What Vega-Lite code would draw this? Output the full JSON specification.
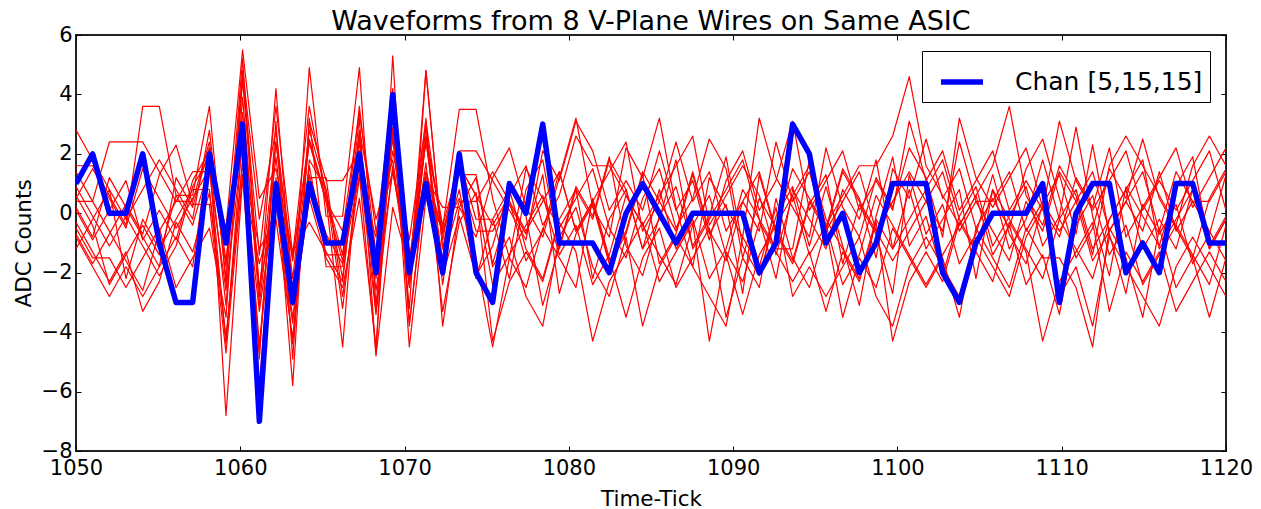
{
"$schema": "https://vega.github.io/schema/vega-lite/v6.json",
"width": 1150,
"height": 416,
"autosize": "none",
"padding": {"left": 76, "top": 35, "right": 35, "bottom": 58},
"background": "#ffffff",
"config": {
  "font": "DejaVu Sans",
  "view": {"stroke": "#222222", "strokeWidth": 2},
  "axis": {"labelFont": "DejaVu Sans", "labelFontSize": 21, "labelColor": "#000000", "titleFont": "DejaVu Sans", "titleFontSize": 21.5, "titleFontWeight": "normal", "titleColor": "#000000", "tickColor": "#000000", "tickWidth": 1, "grid": false, "domain": false, "labelFlush": false, "labelOverlap": false}
},
"title": {"text": "Waveforms from 8 V-Plane Wires on Same ASIC", "font": "DejaVu Sans", "fontSize": 27, "fontWeight": "normal", "color": "#000000", "anchor": "middle", "baseline": "alphabetic", "offset": 7, "dy": 40},
"datasets": {
"red": [
{"s":"A","t":1050,"v":1.6},{"s":"A","t":1051.01,"v":1.6},{"s":"A","t":1052.03,"v":0.6},{"s":"A","t":1053.04,"v":-0.4},{"s":"A","t":1054.06,"v":3.6},{"s":"A","t":1055.07,"v":3.6},{"s":"A","t":1056.09,"v":0.6},{"s":"A","t":1057.1,"v":0.6},{"s":"A","t":1058.12,"v":3.6},{"s":"A","t":1059.13,"v":-2.4},{"s":"A","t":1060.14,"v":4.6},{"s":"A","t":1061.16,"v":-1.4},{"s":"A","t":1062.17,"v":3.6},{"s":"A","t":1063.19,"v":-1.4},{"s":"A","t":1064.2,"v":3.6},{"s":"A","t":1065.22,"v":0.6},{"s":"A","t":1066.23,"v":-1.4},{"s":"A","t":1067.25,"v":3.6},{"s":"A","t":1068.26,"v":-1.4},{"s":"A","t":1069.28,"v":3.6},{"s":"A","t":1070.29,"v":-2.4},{"s":"A","t":1071.3,"v":2.6},{"s":"A","t":1072.32,"v":-0.4},{"s":"A","t":1073.33,"v":1.6},{"s":"A","t":1074.35,"v":0.6},{"s":"A","t":1075.36,"v":-0.4},{"s":"A","t":1076.38,"v":0.6},{"s":"A","t":1077.39,"v":1.6},{"s":"A","t":1078.41,"v":-0.4},{"s":"A","t":1079.42,"v":0.6},{"s":"A","t":1080.43,"v":2.6},{"s":"A","t":1081.45,"v":1.6},{"s":"A","t":1082.46,"v":1.6},{"s":"A","t":1083.48,"v":0.6},{"s":"A","t":1084.49,"v":-0.4},{"s":"A","t":1085.51,"v":0.6},{"s":"A","t":1086.52,"v":1.6},{"s":"A","t":1087.54,"v":2.6},{"s":"A","t":1088.55,"v":-0.4},{"s":"A","t":1089.57,"v":0.6},{"s":"A","t":1090.58,"v":1.6},{"s":"A","t":1091.59,"v":0.6},{"s":"A","t":1092.61,"v":-1.4},{"s":"A","t":1093.62,"v":0.6},{"s":"A","t":1094.64,"v":1.6},{"s":"A","t":1095.65,"v":-0.4},{"s":"A","t":1096.67,"v":0.6},{"s":"A","t":1097.68,"v":1.6},{"s":"A","t":1098.7,"v":1.6},{"s":"A","t":1099.71,"v":2.6},{"s":"A","t":1100.72,"v":4.6},{"s":"A","t":1101.74,"v":1.6},{"s":"A","t":1102.75,"v":0.6},{"s":"A","t":1103.77,"v":-0.4},{"s":"A","t":1104.78,"v":0.6},{"s":"A","t":1105.8,"v":1.6},{"s":"A","t":1106.81,"v":3.6},{"s":"A","t":1107.83,"v":0.6},{"s":"A","t":1108.84,"v":-0.4},{"s":"A","t":1109.86,"v":1.6},{"s":"A","t":1110.87,"v":0.6},{"s":"A","t":1111.88,"v":-1.4},{"s":"A","t":1112.9,"v":1.6},{"s":"A","t":1113.91,"v":2.6},{"s":"A","t":1114.93,"v":1.6},{"s":"A","t":1115.94,"v":0.6},{"s":"A","t":1116.96,"v":-0.4},{"s":"A","t":1117.97,"v":1.6},{"s":"A","t":1118.99,"v":2.6},{"s":"A","t":1120,"v":1.6},
{"s":"B","t":1050,"v":0.6},{"s":"B","t":1051.01,"v":-0.4},{"s":"B","t":1052.03,"v":-2.4},{"s":"B","t":1053.04,"v":-1.4},{"s":"B","t":1054.06,"v":-0.4},{"s":"B","t":1055.07,"v":-1.4},{"s":"B","t":1056.09,"v":0.6},{"s":"B","t":1057.1,"v":-0.4},{"s":"B","t":1058.12,"v":1.6},{"s":"B","t":1059.13,"v":-4.4},{"s":"B","t":1060.14,"v":2.6},{"s":"B","t":1061.16,"v":-4.4},{"s":"B","t":1062.17,"v":0.6},{"s":"B","t":1063.19,"v":-4.4},{"s":"B","t":1064.2,"v":1.6},{"s":"B","t":1065.22,"v":-1.4},{"s":"B","t":1066.23,"v":-1.4},{"s":"B","t":1067.25,"v":1.6},{"s":"B","t":1068.26,"v":-3.4},{"s":"B","t":1069.28,"v":1.6},{"s":"B","t":1070.29,"v":-2.4},{"s":"B","t":1071.3,"v":2.6},{"s":"B","t":1072.32,"v":-2.4},{"s":"B","t":1073.33,"v":1.6},{"s":"B","t":1074.35,"v":0.6},{"s":"B","t":1075.36,"v":-2.4},{"s":"B","t":1076.38,"v":-1.4},{"s":"B","t":1077.39,"v":-0.4},{"s":"B","t":1078.41,"v":0.6},{"s":"B","t":1079.42,"v":-1.4},{"s":"B","t":1080.43,"v":-0.4},{"s":"B","t":1081.45,"v":-2.4},{"s":"B","t":1082.46,"v":-1.4},{"s":"B","t":1083.48,"v":0.6},{"s":"B","t":1084.49,"v":-0.4},{"s":"B","t":1085.51,"v":-1.4},{"s":"B","t":1086.52,"v":-2.4},{"s":"B","t":1087.54,"v":-0.4},{"s":"B","t":1088.55,"v":0.6},{"s":"B","t":1089.57,"v":-1.4},{"s":"B","t":1090.58,"v":-3.4},{"s":"B","t":1091.59,"v":-1.4},{"s":"B","t":1092.61,"v":-0.4},{"s":"B","t":1093.62,"v":0.6},{"s":"B","t":1094.64,"v":-1.4},{"s":"B","t":1095.65,"v":-0.4},{"s":"B","t":1096.67,"v":-2.4},{"s":"B","t":1097.68,"v":-1.4},{"s":"B","t":1098.7,"v":0.6},{"s":"B","t":1099.71,"v":-0.4},{"s":"B","t":1100.72,"v":-1.4},{"s":"B","t":1101.74,"v":-2.4},{"s":"B","t":1102.75,"v":-1.4},{"s":"B","t":1103.77,"v":-0.4},{"s":"B","t":1104.78,"v":0.6},{"s":"B","t":1105.8,"v":-1.4},{"s":"B","t":1106.81,"v":-0.4},{"s":"B","t":1107.83,"v":-2.4},{"s":"B","t":1108.84,"v":-1.4},{"s":"B","t":1109.86,"v":-3.4},{"s":"B","t":1110.87,"v":-0.4},{"s":"B","t":1111.88,"v":0.6},{"s":"B","t":1112.9,"v":-1.4},{"s":"B","t":1113.91,"v":-0.4},{"s":"B","t":1114.93,"v":-2.4},{"s":"B","t":1115.94,"v":-1.4},{"s":"B","t":1116.96,"v":-0.4},{"s":"B","t":1117.97,"v":-1.4},{"s":"B","t":1118.99,"v":-2.4},{"s":"B","t":1120,"v":-0.4},
{"s":"C","t":1050,"v":0.2},{"s":"C","t":1051.01,"v":-0.8},{"s":"C","t":1052.03,"v":1.2},{"s":"C","t":1053.04,"v":0.2},{"s":"C","t":1054.06,"v":-0.8},{"s":"C","t":1055.07,"v":-1.8},{"s":"C","t":1056.09,"v":1.2},{"s":"C","t":1057.1,"v":0.2},{"s":"C","t":1058.12,"v":2.2},{"s":"C","t":1059.13,"v":-1.8},{"s":"C","t":1060.14,"v":5.2},{"s":"C","t":1061.16,"v":-2.8},{"s":"C","t":1062.17,"v":4.2},{"s":"C","t":1063.19,"v":-2.8},{"s":"C","t":1064.2,"v":1.2},{"s":"C","t":1065.22,"v":1.2},{"s":"C","t":1066.23,"v":-2.8},{"s":"C","t":1067.25,"v":1.2},{"s":"C","t":1068.26,"v":-0.8},{"s":"C","t":1069.28,"v":4.2},{"s":"C","t":1070.29,"v":-3.8},{"s":"C","t":1071.3,"v":1.2},{"s":"C","t":1072.32,"v":0.2},{"s":"C","t":1073.33,"v":0.2},{"s":"C","t":1074.35,"v":-0.8},{"s":"C","t":1075.36,"v":1.2},{"s":"C","t":1076.38,"v":2.2},{"s":"C","t":1077.39,"v":0.2},{"s":"C","t":1078.41,"v":-0.8},{"s":"C","t":1079.42,"v":1.2},{"s":"C","t":1080.43,"v":3.2},{"s":"C","t":1081.45,"v":0.2},{"s":"C","t":1082.46,"v":-0.8},{"s":"C","t":1083.48,"v":2.2},{"s":"C","t":1084.49,"v":1.2},{"s":"C","t":1085.51,"v":3.2},{"s":"C","t":1086.52,"v":0.2},{"s":"C","t":1087.54,"v":-1.8},{"s":"C","t":1088.55,"v":1.2},{"s":"C","t":1089.57,"v":0.2},{"s":"C","t":1090.58,"v":-0.8},{"s":"C","t":1091.59,"v":3.2},{"s":"C","t":1092.61,"v":1.2},{"s":"C","t":1093.62,"v":0.2},{"s":"C","t":1094.64,"v":-0.8},{"s":"C","t":1095.65,"v":2.2},{"s":"C","t":1096.67,"v":0.2},{"s":"C","t":1097.68,"v":-0.8},{"s":"C","t":1098.7,"v":1.2},{"s":"C","t":1099.71,"v":0.2},{"s":"C","t":1100.72,"v":2.2},{"s":"C","t":1101.74,"v":1.2},{"s":"C","t":1102.75,"v":-0.8},{"s":"C","t":1103.77,"v":3.2},{"s":"C","t":1104.78,"v":1.2},{"s":"C","t":1105.8,"v":0.2},{"s":"C","t":1106.81,"v":1.2},{"s":"C","t":1107.83,"v":2.2},{"s":"C","t":1108.84,"v":0.2},{"s":"C","t":1109.86,"v":-0.8},{"s":"C","t":1110.87,"v":1.2},{"s":"C","t":1111.88,"v":0.2},{"s":"C","t":1112.9,"v":2.2},{"s":"C","t":1113.91,"v":-0.8},{"s":"C","t":1114.93,"v":0.2},{"s":"C","t":1115.94,"v":1.2},{"s":"C","t":1116.96,"v":2.2},{"s":"C","t":1117.97,"v":0.2},{"s":"C","t":1118.99,"v":1.2},{"s":"C","t":1120,"v":2.2},
{"s":"D","t":1050,"v":-0.8},{"s":"D","t":1051.01,"v":-1.8},{"s":"D","t":1052.03,"v":-2.8},{"s":"D","t":1053.04,"v":-1.8},{"s":"D","t":1054.06,"v":-2.8},{"s":"D","t":1055.07,"v":-1.8},{"s":"D","t":1056.09,"v":-0.8},{"s":"D","t":1057.1,"v":-1.8},{"s":"D","t":1058.12,"v":2.2},{"s":"D","t":1059.13,"v":-6.8},{"s":"D","t":1060.14,"v":1.2},{"s":"D","t":1061.16,"v":-5.8},{"s":"D","t":1062.17,"v":1.2},{"s":"D","t":1063.19,"v":-5.8},{"s":"D","t":1064.2,"v":3.2},{"s":"D","t":1065.22,"v":-1.8},{"s":"D","t":1066.23,"v":-1.8},{"s":"D","t":1067.25,"v":3.2},{"s":"D","t":1068.26,"v":-4.8},{"s":"D","t":1069.28,"v":0.2},{"s":"D","t":1070.29,"v":-1.8},{"s":"D","t":1071.3,"v":3.2},{"s":"D","t":1072.32,"v":-3.8},{"s":"D","t":1073.33,"v":0.2},{"s":"D","t":1074.35,"v":1.2},{"s":"D","t":1075.36,"v":-1.8},{"s":"D","t":1076.38,"v":-0.8},{"s":"D","t":1077.39,"v":-2.8},{"s":"D","t":1078.41,"v":-3.8},{"s":"D","t":1079.42,"v":-0.8},{"s":"D","t":1080.43,"v":0.2},{"s":"D","t":1081.45,"v":-1.8},{"s":"D","t":1082.46,"v":-2.8},{"s":"D","t":1083.48,"v":-0.8},{"s":"D","t":1084.49,"v":-3.8},{"s":"D","t":1085.51,"v":-1.8},{"s":"D","t":1086.52,"v":-0.8},{"s":"D","t":1087.54,"v":-1.8},{"s":"D","t":1088.55,"v":-2.8},{"s":"D","t":1089.57,"v":-3.8},{"s":"D","t":1090.58,"v":-0.8},{"s":"D","t":1091.59,"v":-1.8},{"s":"D","t":1092.61,"v":0.2},{"s":"D","t":1093.62,"v":-2.8},{"s":"D","t":1094.64,"v":-1.8},{"s":"D","t":1095.65,"v":-2.8},{"s":"D","t":1096.67,"v":-1.8},{"s":"D","t":1097.68,"v":-0.8},{"s":"D","t":1098.7,"v":-2.8},{"s":"D","t":1099.71,"v":-3.8},{"s":"D","t":1100.72,"v":-1.8},{"s":"D","t":1101.74,"v":-0.8},{"s":"D","t":1102.75,"v":-1.8},{"s":"D","t":1103.77,"v":-2.8},{"s":"D","t":1104.78,"v":-0.8},{"s":"D","t":1105.8,"v":-1.8},{"s":"D","t":1106.81,"v":-2.8},{"s":"D","t":1107.83,"v":-0.8},{"s":"D","t":1108.84,"v":0.2},{"s":"D","t":1109.86,"v":-2.8},{"s":"D","t":1110.87,"v":-1.8},{"s":"D","t":1111.88,"v":-3.8},{"s":"D","t":1112.9,"v":-0.8},{"s":"D","t":1113.91,"v":-1.8},{"s":"D","t":1114.93,"v":-2.8},{"s":"D","t":1115.94,"v":-3.8},{"s":"D","t":1116.96,"v":-1.8},{"s":"D","t":1117.97,"v":-0.8},{"s":"D","t":1118.99,"v":-1.8},{"s":"D","t":1120,"v":-2.8},
{"s":"E","t":1050,"v":0.5},{"s":"E","t":1051.01,"v":1.5},{"s":"E","t":1052.03,"v":0.5},{"s":"E","t":1053.04,"v":-0.5},{"s":"E","t":1054.06,"v":1.5},{"s":"E","t":1055.07,"v":0.5},{"s":"E","t":1056.09,"v":-0.5},{"s":"E","t":1057.1,"v":0.5},{"s":"E","t":1058.12,"v":1.5},{"s":"E","t":1059.13,"v":-0.5},{"s":"E","t":1060.14,"v":5.5},{"s":"E","t":1061.16,"v":0.5},{"s":"E","t":1062.17,"v":1.5},{"s":"E","t":1063.19,"v":-1.5},{"s":"E","t":1064.2,"v":2.5},{"s":"E","t":1065.22,"v":0.5},{"s":"E","t":1066.23,"v":-4.5},{"s":"E","t":1067.25,"v":2.5},{"s":"E","t":1068.26,"v":-1.5},{"s":"E","t":1069.28,"v":2.5},{"s":"E","t":1070.29,"v":-2.5},{"s":"E","t":1071.3,"v":2.5},{"s":"E","t":1072.32,"v":-0.5},{"s":"E","t":1073.33,"v":3.5},{"s":"E","t":1074.35,"v":3.5},{"s":"E","t":1075.36,"v":0.5},{"s":"E","t":1076.38,"v":-1.5},{"s":"E","t":1077.39,"v":1.5},{"s":"E","t":1078.41,"v":0.5},{"s":"E","t":1079.42,"v":-0.5},{"s":"E","t":1080.43,"v":0.5},{"s":"E","t":1081.45,"v":1.5},{"s":"E","t":1082.46,"v":-0.5},{"s":"E","t":1083.48,"v":-1.5},{"s":"E","t":1084.49,"v":0.5},{"s":"E","t":1085.51,"v":1.5},{"s":"E","t":1086.52,"v":-0.5},{"s":"E","t":1087.54,"v":0.5},{"s":"E","t":1088.55,"v":2.5},{"s":"E","t":1089.57,"v":1.5},{"s":"E","t":1090.58,"v":-1.5},{"s":"E","t":1091.59,"v":0.5},{"s":"E","t":1092.61,"v":-0.5},{"s":"E","t":1093.62,"v":1.5},{"s":"E","t":1094.64,"v":0.5},{"s":"E","t":1095.65,"v":-0.5},{"s":"E","t":1096.67,"v":1.5},{"s":"E","t":1097.68,"v":0.5},{"s":"E","t":1098.7,"v":-1.5},{"s":"E","t":1099.71,"v":1.5},{"s":"E","t":1100.72,"v":0.5},{"s":"E","t":1101.74,"v":2.5},{"s":"E","t":1102.75,"v":0.5},{"s":"E","t":1103.77,"v":1.5},{"s":"E","t":1104.78,"v":-0.5},{"s":"E","t":1105.8,"v":0.5},{"s":"E","t":1106.81,"v":-0.5},{"s":"E","t":1107.83,"v":1.5},{"s":"E","t":1108.84,"v":2.5},{"s":"E","t":1109.86,"v":0.5},{"s":"E","t":1110.87,"v":-1.5},{"s":"E","t":1111.88,"v":-0.5},{"s":"E","t":1112.9,"v":1.5},{"s":"E","t":1113.91,"v":0.5},{"s":"E","t":1114.93,"v":2.5},{"s":"E","t":1115.94,"v":0.5},{"s":"E","t":1116.96,"v":-0.5},{"s":"E","t":1117.97,"v":-1.5},{"s":"E","t":1118.99,"v":0.5},{"s":"E","t":1120,"v":1.5},
{"s":"F","t":1050,"v":0.9},{"s":"F","t":1051.01,"v":-0.1},{"s":"F","t":1052.03,"v":-1.1},{"s":"F","t":1053.04,"v":-0.1},{"s":"F","t":1054.06,"v":-1.1},{"s":"F","t":1055.07,"v":-2.1},{"s":"F","t":1056.09,"v":-1.1},{"s":"F","t":1057.1,"v":0.9},{"s":"F","t":1058.12,"v":1.9},{"s":"F","t":1059.13,"v":-3.1},{"s":"F","t":1060.14,"v":3.9},{"s":"F","t":1061.16,"v":-3.1},{"s":"F","t":1062.17,"v":1.9},{"s":"F","t":1063.19,"v":-3.1},{"s":"F","t":1064.2,"v":4.9},{"s":"F","t":1065.22,"v":-0.1},{"s":"F","t":1066.23,"v":-0.1},{"s":"F","t":1067.25,"v":4.9},{"s":"F","t":1068.26,"v":-3.1},{"s":"F","t":1069.28,"v":2.9},{"s":"F","t":1070.29,"v":-2.1},{"s":"F","t":1071.3,"v":2.9},{"s":"F","t":1072.32,"v":-2.1},{"s":"F","t":1073.33,"v":-0.1},{"s":"F","t":1074.35,"v":-2.1},{"s":"F","t":1075.36,"v":-1.1},{"s":"F","t":1076.38,"v":0.9},{"s":"F","t":1077.39,"v":-0.1},{"s":"F","t":1078.41,"v":-3.1},{"s":"F","t":1079.42,"v":-1.1},{"s":"F","t":1080.43,"v":0.9},{"s":"F","t":1081.45,"v":-0.1},{"s":"F","t":1082.46,"v":1.9},{"s":"F","t":1083.48,"v":-1.1},{"s":"F","t":1084.49,"v":-2.1},{"s":"F","t":1085.51,"v":-0.1},{"s":"F","t":1086.52,"v":0.9},{"s":"F","t":1087.54,"v":-1.1},{"s":"F","t":1088.55,"v":-0.1},{"s":"F","t":1089.57,"v":1.9},{"s":"F","t":1090.58,"v":-1.1},{"s":"F","t":1091.59,"v":-2.1},{"s":"F","t":1092.61,"v":-0.1},{"s":"F","t":1093.62,"v":0.9},{"s":"F","t":1094.64,"v":-1.1},{"s":"F","t":1095.65,"v":0.9},{"s":"F","t":1096.67,"v":-1.1},{"s":"F","t":1097.68,"v":-3.1},{"s":"F","t":1098.7,"v":-0.1},{"s":"F","t":1099.71,"v":1.9},{"s":"F","t":1100.72,"v":-1.1},{"s":"F","t":1101.74,"v":-0.1},{"s":"F","t":1102.75,"v":-2.1},{"s":"F","t":1103.77,"v":-0.1},{"s":"F","t":1104.78,"v":0.9},{"s":"F","t":1105.8,"v":-1.1},{"s":"F","t":1106.81,"v":-0.1},{"s":"F","t":1107.83,"v":0.9},{"s":"F","t":1108.84,"v":-1.1},{"s":"F","t":1109.86,"v":-0.1},{"s":"F","t":1110.87,"v":2.9},{"s":"F","t":1111.88,"v":-0.1},{"s":"F","t":1112.9,"v":-2.1},{"s":"F","t":1113.91,"v":0.9},{"s":"F","t":1114.93,"v":-0.1},{"s":"F","t":1115.94,"v":-1.1},{"s":"F","t":1116.96,"v":0.9},{"s":"F","t":1117.97,"v":1.9},{"s":"F","t":1118.99,"v":-1.1},{"s":"F","t":1120,"v":-0.1},
{"s":"G","t":1050,"v":-0.7},{"s":"G","t":1051.01,"v":-1.7},{"s":"G","t":1052.03,"v":-0.7},{"s":"G","t":1053.04,"v":0.3},{"s":"G","t":1054.06,"v":-0.7},{"s":"G","t":1055.07,"v":1.3},{"s":"G","t":1056.09,"v":2.3},{"s":"G","t":1057.1,"v":0.3},{"s":"G","t":1058.12,"v":0.3},{"s":"G","t":1059.13,"v":-4.7},{"s":"G","t":1060.14,"v":1.3},{"s":"G","t":1061.16,"v":-1.7},{"s":"G","t":1062.17,"v":0.3},{"s":"G","t":1063.19,"v":-3.7},{"s":"G","t":1064.2,"v":1.3},{"s":"G","t":1065.22,"v":-0.7},{"s":"G","t":1066.23,"v":-1.7},{"s":"G","t":1067.25,"v":1.3},{"s":"G","t":1068.26,"v":-4.7},{"s":"G","t":1069.28,"v":5.3},{"s":"G","t":1070.29,"v":-3.7},{"s":"G","t":1071.3,"v":1.3},{"s":"G","t":1072.32,"v":-0.7},{"s":"G","t":1073.33,"v":1.3},{"s":"G","t":1074.35,"v":1.3},{"s":"G","t":1075.36,"v":-1.7},{"s":"G","t":1076.38,"v":0.3},{"s":"G","t":1077.39,"v":-0.7},{"s":"G","t":1078.41,"v":1.3},{"s":"G","t":1079.42,"v":-2.7},{"s":"G","t":1080.43,"v":-0.7},{"s":"G","t":1081.45,"v":0.3},{"s":"G","t":1082.46,"v":-1.7},{"s":"G","t":1083.48,"v":-0.7},{"s":"G","t":1084.49,"v":1.3},{"s":"G","t":1085.51,"v":-1.7},{"s":"G","t":1086.52,"v":-0.7},{"s":"G","t":1087.54,"v":1.3},{"s":"G","t":1088.55,"v":-0.7},{"s":"G","t":1089.57,"v":0.3},{"s":"G","t":1090.58,"v":-2.7},{"s":"G","t":1091.59,"v":1.3},{"s":"G","t":1092.61,"v":-0.7},{"s":"G","t":1093.62,"v":-1.7},{"s":"G","t":1094.64,"v":0.3},{"s":"G","t":1095.65,"v":1.3},{"s":"G","t":1096.67,"v":-1.7},{"s":"G","t":1097.68,"v":0.3},{"s":"G","t":1098.7,"v":-0.7},{"s":"G","t":1099.71,"v":-2.7},{"s":"G","t":1100.72,"v":1.3},{"s":"G","t":1101.74,"v":-0.7},{"s":"G","t":1102.75,"v":0.3},{"s":"G","t":1103.77,"v":-1.7},{"s":"G","t":1104.78,"v":-0.7},{"s":"G","t":1105.8,"v":1.3},{"s":"G","t":1106.81,"v":-0.7},{"s":"G","t":1107.83,"v":-1.7},{"s":"G","t":1108.84,"v":0.3},{"s":"G","t":1109.86,"v":1.3},{"s":"G","t":1110.87,"v":-0.7},{"s":"G","t":1111.88,"v":2.3},{"s":"G","t":1112.9,"v":-0.7},{"s":"G","t":1113.91,"v":-2.7},{"s":"G","t":1114.93,"v":0.3},{"s":"G","t":1115.94,"v":-0.7},{"s":"G","t":1116.96,"v":0.3},{"s":"G","t":1117.97,"v":-1.7},{"s":"G","t":1118.99,"v":-0.7},{"s":"G","t":1120,"v":1.3},
{"s":"H","t":1050,"v":1.4},{"s":"H","t":1051.01,"v":0.4},{"s":"H","t":1052.03,"v":-0.6},{"s":"H","t":1053.04,"v":-1.6},{"s":"H","t":1054.06,"v":-2.6},{"s":"H","t":1055.07,"v":-0.6},{"s":"H","t":1056.09,"v":0.4},{"s":"H","t":1057.1,"v":1.4},{"s":"H","t":1058.12,"v":1.4},{"s":"H","t":1059.13,"v":-2.6},{"s":"H","t":1060.14,"v":2.4},{"s":"H","t":1061.16,"v":-4.6},{"s":"H","t":1062.17,"v":2.4},{"s":"H","t":1063.19,"v":-2.6},{"s":"H","t":1064.2,"v":2.4},{"s":"H","t":1065.22,"v":0.4},{"s":"H","t":1066.23,"v":-1.6},{"s":"H","t":1067.25,"v":2.4},{"s":"H","t":1068.26,"v":-2.6},{"s":"H","t":1069.28,"v":1.4},{"s":"H","t":1070.29,"v":-1.6},{"s":"H","t":1071.3,"v":1.4},{"s":"H","t":1072.32,"v":-0.6},{"s":"H","t":1073.33,"v":1.4},{"s":"H","t":1074.35,"v":-0.6},{"s":"H","t":1075.36,"v":-0.6},{"s":"H","t":1076.38,"v":0.4},{"s":"H","t":1077.39,"v":-1.6},{"s":"H","t":1078.41,"v":-0.6},{"s":"H","t":1079.42,"v":1.4},{"s":"H","t":1080.43,"v":-0.6},{"s":"H","t":1081.45,"v":0.4},{"s":"H","t":1082.46,"v":-1.6},{"s":"H","t":1083.48,"v":-0.6},{"s":"H","t":1084.49,"v":1.4},{"s":"H","t":1085.51,"v":0.4},{"s":"H","t":1086.52,"v":-0.6},{"s":"H","t":1087.54,"v":1.4},{"s":"H","t":1088.55,"v":-0.6},{"s":"H","t":1089.57,"v":-1.6},{"s":"H","t":1090.58,"v":0.4},{"s":"H","t":1091.59,"v":1.4},{"s":"H","t":1092.61,"v":-0.6},{"s":"H","t":1093.62,"v":-1.6},{"s":"H","t":1094.64,"v":0.4},{"s":"H","t":1095.65,"v":-0.6},{"s":"H","t":1096.67,"v":1.4},{"s":"H","t":1097.68,"v":0.4},{"s":"H","t":1098.7,"v":-0.6},{"s":"H","t":1099.71,"v":-1.6},{"s":"H","t":1100.72,"v":-0.6},{"s":"H","t":1101.74,"v":0.4},{"s":"H","t":1102.75,"v":1.4},{"s":"H","t":1103.77,"v":-0.6},{"s":"H","t":1104.78,"v":0.4},{"s":"H","t":1105.8,"v":-0.6},{"s":"H","t":1106.81,"v":-1.6},{"s":"H","t":1107.83,"v":0.4},{"s":"H","t":1108.84,"v":-0.6},{"s":"H","t":1109.86,"v":1.4},{"s":"H","t":1110.87,"v":0.4},{"s":"H","t":1111.88,"v":-1.6},{"s":"H","t":1112.9,"v":-0.6},{"s":"H","t":1113.91,"v":0.4},{"s":"H","t":1114.93,"v":-0.6},{"s":"H","t":1115.94,"v":1.4},{"s":"H","t":1116.96,"v":-0.6},{"s":"H","t":1117.97,"v":0.4},{"s":"H","t":1118.99,"v":-0.6},{"s":"H","t":1120,"v":-1.6},
{"s":"I","t":1050,"v":2.8},{"s":"I","t":1051.01,"v":1.8},{"s":"I","t":1052.03,"v":0.8},{"s":"I","t":1053.04,"v":-0.2},{"s":"I","t":1054.06,"v":0.8},{"s":"I","t":1055.07,"v":1.8},{"s":"I","t":1056.09,"v":0.8},{"s":"I","t":1057.1,"v":-0.2},{"s":"I","t":1058.12,"v":2.8},{"s":"I","t":1059.13,"v":-2.2},{"s":"I","t":1060.14,"v":4.8},{"s":"I","t":1061.16,"v":-0.2},{"s":"I","t":1062.17,"v":2.8},{"s":"I","t":1063.19,"v":-2.2},{"s":"I","t":1064.2,"v":2.8},{"s":"I","t":1065.22,"v":0.8},{"s":"I","t":1066.23,"v":-2.2},{"s":"I","t":1067.25,"v":2.8},{"s":"I","t":1068.26,"v":-0.2},{"s":"I","t":1069.28,"v":1.8},{"s":"I","t":1070.29,"v":-2.2},{"s":"I","t":1071.3,"v":4.8},{"s":"I","t":1072.32,"v":-1.2},{"s":"I","t":1073.33,"v":1.8},{"s":"I","t":1074.35,"v":-0.2},{"s":"I","t":1075.36,"v":-0.2},{"s":"I","t":1076.38,"v":-2.2},{"s":"I","t":1077.39,"v":0.8},{"s":"I","t":1078.41,"v":1.8},{"s":"I","t":1079.42,"v":-1.2},{"s":"I","t":1080.43,"v":0.8},{"s":"I","t":1081.45,"v":-0.2},{"s":"I","t":1082.46,"v":1.8},{"s":"I","t":1083.48,"v":0.8},{"s":"I","t":1084.49,"v":-1.2},{"s":"I","t":1085.51,"v":-0.2},{"s":"I","t":1086.52,"v":1.8},{"s":"I","t":1087.54,"v":-1.2},{"s":"I","t":1088.55,"v":-0.2},{"s":"I","t":1089.57,"v":0.8},{"s":"I","t":1090.58,"v":1.8},{"s":"I","t":1091.59,"v":-0.2},{"s":"I","t":1092.61,"v":-2.2},{"s":"I","t":1093.62,"v":0.8},{"s":"I","t":1094.64,"v":-0.2},{"s":"I","t":1095.65,"v":-1.2},{"s":"I","t":1096.67,"v":0.8},{"s":"I","t":1097.68,"v":-0.2},{"s":"I","t":1098.7,"v":1.8},{"s":"I","t":1099.71,"v":-1.2},{"s":"I","t":1100.72,"v":-0.2},{"s":"I","t":1101.74,"v":0.8},{"s":"I","t":1102.75,"v":1.8},{"s":"I","t":1103.77,"v":-0.2},{"s":"I","t":1104.78,"v":-1.2},{"s":"I","t":1105.8,"v":0.8},{"s":"I","t":1106.81,"v":-1.2},{"s":"I","t":1107.83,"v":-0.2},{"s":"I","t":1108.84,"v":1.8},{"s":"I","t":1109.86,"v":-0.2},{"s":"I","t":1110.87,"v":0.8},{"s":"I","t":1111.88,"v":-1.2},{"s":"I","t":1112.9,"v":-0.2},{"s":"I","t":1113.91,"v":0.8},{"s":"I","t":1114.93,"v":1.8},{"s":"I","t":1115.94,"v":-1.2},{"s":"I","t":1116.96,"v":-0.2},{"s":"I","t":1117.97,"v":0.8},{"s":"I","t":1118.99,"v":-1.2},{"s":"I","t":1120,"v":-0.2},
{"s":"J","t":1050,"v":-0.3},{"s":"J","t":1051.01,"v":-1.3},{"s":"J","t":1052.03,"v":-2.3},{"s":"J","t":1053.04,"v":-1.3},{"s":"J","t":1054.06,"v":-3.3},{"s":"J","t":1055.07,"v":-2.3},{"s":"J","t":1056.09,"v":-0.3},{"s":"J","t":1057.1,"v":-1.3},{"s":"J","t":1058.12,"v":0.7},{"s":"J","t":1059.13,"v":-4.3},{"s":"J","t":1060.14,"v":1.7},{"s":"J","t":1061.16,"v":-3.3},{"s":"J","t":1062.17,"v":0.7},{"s":"J","t":1063.19,"v":-1.3},{"s":"J","t":1064.2,"v":-0.3},{"s":"J","t":1065.22,"v":-1.3},{"s":"J","t":1066.23,"v":-2.3},{"s":"J","t":1067.25,"v":2.7},{"s":"J","t":1068.26,"v":-3.3},{"s":"J","t":1069.28,"v":2.7},{"s":"J","t":1070.29,"v":-2.3},{"s":"J","t":1071.3,"v":1.7},{"s":"J","t":1072.32,"v":-3.3},{"s":"J","t":1073.33,"v":-0.3},{"s":"J","t":1074.35,"v":0.7},{"s":"J","t":1075.36,"v":-4.3},{"s":"J","t":1076.38,"v":-2.3},{"s":"J","t":1077.39,"v":-1.3},{"s":"J","t":1078.41,"v":-2.3},{"s":"J","t":1079.42,"v":-0.3},{"s":"J","t":1080.43,"v":-1.3},{"s":"J","t":1081.45,"v":-4.3},{"s":"J","t":1082.46,"v":-2.3},{"s":"J","t":1083.48,"v":-1.3},{"s":"J","t":1084.49,"v":-0.3},{"s":"J","t":1085.51,"v":-2.3},{"s":"J","t":1086.52,"v":-1.3},{"s":"J","t":1087.54,"v":-0.3},{"s":"J","t":1088.55,"v":-4.3},{"s":"J","t":1089.57,"v":-1.3},{"s":"J","t":1090.58,"v":-2.3},{"s":"J","t":1091.59,"v":-0.3},{"s":"J","t":1092.61,"v":-1.3},{"s":"J","t":1093.62,"v":-2.3},{"s":"J","t":1094.64,"v":-1.3},{"s":"J","t":1095.65,"v":-3.3},{"s":"J","t":1096.67,"v":-1.3},{"s":"J","t":1097.68,"v":-2.3},{"s":"J","t":1098.7,"v":-0.3},{"s":"J","t":1099.71,"v":-4.3},{"s":"J","t":1100.72,"v":-2.3},{"s":"J","t":1101.74,"v":-1.3},{"s":"J","t":1102.75,"v":-2.3},{"s":"J","t":1103.77,"v":-0.3},{"s":"J","t":1104.78,"v":-1.3},{"s":"J","t":1105.8,"v":-2.3},{"s":"J","t":1106.81,"v":-0.3},{"s":"J","t":1107.83,"v":-1.3},{"s":"J","t":1108.84,"v":-4.3},{"s":"J","t":1109.86,"v":-2.3},{"s":"J","t":1110.87,"v":-1.3},{"s":"J","t":1111.88,"v":-0.3},{"s":"J","t":1112.9,"v":-3.3},{"s":"J","t":1113.91,"v":-1.3},{"s":"J","t":1114.93,"v":-2.3},{"s":"J","t":1115.94,"v":-1.3},{"s":"J","t":1116.96,"v":-3.3},{"s":"J","t":1117.97,"v":-2.3},{"s":"J","t":1118.99,"v":-1.3},{"s":"J","t":1120,"v":-2.3},
{"s":"K","t":1050,"v":0.1},{"s":"K","t":1051.01,"v":-0.9},{"s":"K","t":1052.03,"v":0.1},{"s":"K","t":1053.04,"v":1.1},{"s":"K","t":1054.06,"v":-0.9},{"s":"K","t":1055.07,"v":0.1},{"s":"K","t":1056.09,"v":-0.9},{"s":"K","t":1057.1,"v":1.1},{"s":"K","t":1058.12,"v":2.1},{"s":"K","t":1059.13,"v":-0.9},{"s":"K","t":1060.14,"v":3.1},{"s":"K","t":1061.16,"v":-4.9},{"s":"K","t":1062.17,"v":3.1},{"s":"K","t":1063.19,"v":-4.9},{"s":"K","t":1064.2,"v":3.1},{"s":"K","t":1065.22,"v":1.1},{"s":"K","t":1066.23,"v":1.1},{"s":"K","t":1067.25,"v":2.1},{"s":"K","t":1068.26,"v":-1.9},{"s":"K","t":1069.28,"v":2.1},{"s":"K","t":1070.29,"v":-0.9},{"s":"K","t":1071.3,"v":3.1},{"s":"K","t":1072.32,"v":-0.9},{"s":"K","t":1073.33,"v":2.1},{"s":"K","t":1074.35,"v":2.1},{"s":"K","t":1075.36,"v":1.1},{"s":"K","t":1076.38,"v":0.1},{"s":"K","t":1077.39,"v":-0.9},{"s":"K","t":1078.41,"v":2.1},{"s":"K","t":1079.42,"v":1.1},{"s":"K","t":1080.43,"v":3.1},{"s":"K","t":1081.45,"v":2.1},{"s":"K","t":1082.46,"v":0.1},{"s":"K","t":1083.48,"v":1.1},{"s":"K","t":1084.49,"v":0.1},{"s":"K","t":1085.51,"v":2.1},{"s":"K","t":1086.52,"v":0.1},{"s":"K","t":1087.54,"v":1.1},{"s":"K","t":1088.55,"v":-0.9},{"s":"K","t":1089.57,"v":1.1},{"s":"K","t":1090.58,"v":2.1},{"s":"K","t":1091.59,"v":0.1},{"s":"K","t":1092.61,"v":1.1},{"s":"K","t":1093.62,"v":3.1},{"s":"K","t":1094.64,"v":0.1},{"s":"K","t":1095.65,"v":1.1},{"s":"K","t":1096.67,"v":2.1},{"s":"K","t":1097.68,"v":0.1},{"s":"K","t":1098.7,"v":1.1},{"s":"K","t":1099.71,"v":0.1},{"s":"K","t":1100.72,"v":3.1},{"s":"K","t":1101.74,"v":1.1},{"s":"K","t":1102.75,"v":2.1},{"s":"K","t":1103.77,"v":0.1},{"s":"K","t":1104.78,"v":1.1},{"s":"K","t":1105.8,"v":2.1},{"s":"K","t":1106.81,"v":0.1},{"s":"K","t":1107.83,"v":1.1},{"s":"K","t":1108.84,"v":0.1},{"s":"K","t":1109.86,"v":3.1},{"s":"K","t":1110.87,"v":1.1},{"s":"K","t":1111.88,"v":0.1},{"s":"K","t":1112.9,"v":1.1},{"s":"K","t":1113.91,"v":2.1},{"s":"K","t":1114.93,"v":0.1},{"s":"K","t":1115.94,"v":1.1},{"s":"K","t":1116.96,"v":0.1},{"s":"K","t":1117.97,"v":1.1},{"s":"K","t":1118.99,"v":2.1},{"s":"K","t":1120,"v":0.1},
{"s":"L","t":1050,"v":-0.5},{"s":"L","t":1051.01,"v":-1.5},{"s":"L","t":1052.03,"v":-1.5},{"s":"L","t":1053.04,"v":-2.5},{"s":"L","t":1054.06,"v":-1.5},{"s":"L","t":1055.07,"v":-0.5},{"s":"L","t":1056.09,"v":-2.5},{"s":"L","t":1057.1,"v":-1.5},{"s":"L","t":1058.12,"v":-0.5},{"s":"L","t":1059.13,"v":-3.5},{"s":"L","t":1060.14,"v":4.5},{"s":"L","t":1061.16,"v":-2.5},{"s":"L","t":1062.17,"v":0.5},{"s":"L","t":1063.19,"v":-3.5},{"s":"L","t":1064.2,"v":0.5},{"s":"L","t":1065.22,"v":-1.5},{"s":"L","t":1066.23,"v":-2.5},{"s":"L","t":1067.25,"v":0.5},{"s":"L","t":1068.26,"v":-4.5},{"s":"L","t":1069.28,"v":3.5},{"s":"L","t":1070.29,"v":-4.5},{"s":"L","t":1071.3,"v":0.5},{"s":"L","t":1072.32,"v":-0.5},{"s":"L","t":1073.33,"v":0.5},{"s":"L","t":1074.35,"v":-1.5},{"s":"L","t":1075.36,"v":-4.5},{"s":"L","t":1076.38,"v":-1.5},{"s":"L","t":1077.39,"v":-2.5},{"s":"L","t":1078.41,"v":-0.5},{"s":"L","t":1079.42,"v":-1.5},{"s":"L","t":1080.43,"v":-2.5},{"s":"L","t":1081.45,"v":0.5},{"s":"L","t":1082.46,"v":-1.5},{"s":"L","t":1083.48,"v":-3.5},{"s":"L","t":1084.49,"v":-1.5},{"s":"L","t":1085.51,"v":-0.5},{"s":"L","t":1086.52,"v":-2.5},{"s":"L","t":1087.54,"v":-1.5},{"s":"L","t":1088.55,"v":-0.5},{"s":"L","t":1089.57,"v":-3.5},{"s":"L","t":1090.58,"v":-1.5},{"s":"L","t":1091.59,"v":-2.5},{"s":"L","t":1092.61,"v":0.5},{"s":"L","t":1093.62,"v":-1.5},{"s":"L","t":1094.64,"v":-2.5},{"s":"L","t":1095.65,"v":-0.5},{"s":"L","t":1096.67,"v":-3.5},{"s":"L","t":1097.68,"v":-1.5},{"s":"L","t":1098.7,"v":-2.5},{"s":"L","t":1099.71,"v":-0.5},{"s":"L","t":1100.72,"v":-1.5},{"s":"L","t":1101.74,"v":-2.5},{"s":"L","t":1102.75,"v":-1.5},{"s":"L","t":1103.77,"v":-3.5},{"s":"L","t":1104.78,"v":-0.5},{"s":"L","t":1105.8,"v":-1.5},{"s":"L","t":1106.81,"v":-2.5},{"s":"L","t":1107.83,"v":-0.5},{"s":"L","t":1108.84,"v":-1.5},{"s":"L","t":1109.86,"v":-1.5},{"s":"L","t":1110.87,"v":-2.5},{"s":"L","t":1111.88,"v":-4.5},{"s":"L","t":1112.9,"v":-0.5},{"s":"L","t":1113.91,"v":-1.5},{"s":"L","t":1114.93,"v":-3.5},{"s":"L","t":1115.94,"v":-0.5},{"s":"L","t":1116.96,"v":-2.5},{"s":"L","t":1117.97,"v":-1.5},{"s":"L","t":1118.99,"v":-3.5},{"s":"L","t":1120,"v":-1.5},
{"s":"M","t":1050,"v":0.4},{"s":"M","t":1051.01,"v":0.4},{"s":"M","t":1052.03,"v":2.4},{"s":"M","t":1053.04,"v":2.4},{"s":"M","t":1054.06,"v":2.4},{"s":"M","t":1055.07,"v":1.4},{"s":"M","t":1056.09,"v":0.4},{"s":"M","t":1057.1,"v":0.4},{"s":"M","t":1058.12,"v":2.4},{"s":"M","t":1059.13,"v":-1.6},{"s":"M","t":1060.14,"v":3.4},{"s":"M","t":1061.16,"v":-2.6},{"s":"M","t":1062.17,"v":2.4},{"s":"M","t":1063.19,"v":-1.6},{"s":"M","t":1064.2,"v":2.4},{"s":"M","t":1065.22,"v":0.4},{"s":"M","t":1066.23,"v":-0.6},{"s":"M","t":1067.25,"v":3.4},{"s":"M","t":1068.26,"v":-0.6},{"s":"M","t":1069.28,"v":1.4},{"s":"M","t":1070.29,"v":-1.6},{"s":"M","t":1071.3,"v":2.4},{"s":"M","t":1072.32,"v":-1.6},{"s":"M","t":1073.33,"v":0.4},{"s":"M","t":1074.35,"v":0.4},{"s":"M","t":1075.36,"v":1.4},{"s":"M","t":1076.38,"v":0.4},{"s":"M","t":1077.39,"v":-0.6},{"s":"M","t":1078.41,"v":0.4},{"s":"M","t":1079.42,"v":1.4},{"s":"M","t":1080.43,"v":-0.6},{"s":"M","t":1081.45,"v":0.4},{"s":"M","t":1082.46,"v":1.4},{"s":"M","t":1083.48,"v":2.4},{"s":"M","t":1084.49,"v":-0.6},{"s":"M","t":1085.51,"v":0.4},{"s":"M","t":1086.52,"v":2.4},{"s":"M","t":1087.54,"v":0.4},{"s":"M","t":1088.55,"v":1.4},{"s":"M","t":1089.57,"v":-0.6},{"s":"M","t":1090.58,"v":0.4},{"s":"M","t":1091.59,"v":-0.6},{"s":"M","t":1092.61,"v":2.4},{"s":"M","t":1093.62,"v":0.4},{"s":"M","t":1094.64,"v":1.4},{"s":"M","t":1095.65,"v":-0.6},{"s":"M","t":1096.67,"v":0.4},{"s":"M","t":1097.68,"v":1.4},{"s":"M","t":1098.7,"v":-0.6},{"s":"M","t":1099.71,"v":0.4},{"s":"M","t":1100.72,"v":1.4},{"s":"M","t":1101.74,"v":0.4},{"s":"M","t":1102.75,"v":-0.6},{"s":"M","t":1103.77,"v":2.4},{"s":"M","t":1104.78,"v":0.4},{"s":"M","t":1105.8,"v":0.4},{"s":"M","t":1106.81,"v":1.4},{"s":"M","t":1107.83,"v":-0.6},{"s":"M","t":1108.84,"v":0.4},{"s":"M","t":1109.86,"v":-0.6},{"s":"M","t":1110.87,"v":0.4},{"s":"M","t":1111.88,"v":1.4},{"s":"M","t":1112.9,"v":-0.6},{"s":"M","t":1113.91,"v":0.4},{"s":"M","t":1114.93,"v":1.4},{"s":"M","t":1115.94,"v":-0.6},{"s":"M","t":1116.96,"v":1.4},{"s":"M","t":1117.97,"v":0.4},{"s":"M","t":1118.99,"v":0.4},{"s":"M","t":1120,"v":1.4},
{"s":"N","t":1050,"v":-1.2},{"s":"N","t":1051.01,"v":-0.2},{"s":"N","t":1052.03,"v":0.8},{"s":"N","t":1053.04,"v":-2.2},{"s":"N","t":1054.06,"v":-0.2},{"s":"N","t":1055.07,"v":-1.2},{"s":"N","t":1056.09,"v":-0.2},{"s":"N","t":1057.1,"v":0.8},{"s":"N","t":1058.12,"v":0.8},{"s":"N","t":1059.13,"v":-4.2},{"s":"N","t":1060.14,"v":1.8},{"s":"N","t":1061.16,"v":-1.2},{"s":"N","t":1062.17,"v":-0.2},{"s":"N","t":1063.19,"v":-4.2},{"s":"N","t":1064.2,"v":1.8},{"s":"N","t":1065.22,"v":0.8},{"s":"N","t":1066.23,"v":-3.2},{"s":"N","t":1067.25,"v":1.8},{"s":"N","t":1068.26,"v":-2.2},{"s":"N","t":1069.28,"v":2.8},{"s":"N","t":1070.29,"v":-3.2},{"s":"N","t":1071.3,"v":4.8},{"s":"N","t":1072.32,"v":-1.2},{"s":"N","t":1073.33,"v":0.8},{"s":"N","t":1074.35,"v":-2.2},{"s":"N","t":1075.36,"v":-0.2},{"s":"N","t":1076.38,"v":0.8},{"s":"N","t":1077.39,"v":-1.2},{"s":"N","t":1078.41,"v":-2.2},{"s":"N","t":1079.42,"v":-0.2},{"s":"N","t":1080.43,"v":0.8},{"s":"N","t":1081.45,"v":-2.2},{"s":"N","t":1082.46,"v":-0.2},{"s":"N","t":1083.48,"v":0.8},{"s":"N","t":1084.49,"v":-1.2},{"s":"N","t":1085.51,"v":0.8},{"s":"N","t":1086.52,"v":-1.2},{"s":"N","t":1087.54,"v":-0.2},{"s":"N","t":1088.55,"v":-2.2},{"s":"N","t":1089.57,"v":-1.2},{"s":"N","t":1090.58,"v":0.8},{"s":"N","t":1091.59,"v":-0.2},{"s":"N","t":1092.61,"v":-1.2},{"s":"N","t":1093.62,"v":-1.2},{"s":"N","t":1094.64,"v":1.8},{"s":"N","t":1095.65,"v":-0.2},{"s":"N","t":1096.67,"v":-1.2},{"s":"N","t":1097.68,"v":-2.2},{"s":"N","t":1098.7,"v":-0.2},{"s":"N","t":1099.71,"v":-1.2},{"s":"N","t":1100.72,"v":0.8},{"s":"N","t":1101.74,"v":-1.2},{"s":"N","t":1102.75,"v":-0.2},{"s":"N","t":1103.77,"v":0.8},{"s":"N","t":1104.78,"v":-2.2},{"s":"N","t":1105.8,"v":0.8},{"s":"N","t":1106.81,"v":-0.2},{"s":"N","t":1107.83,"v":-1.2},{"s":"N","t":1108.84,"v":-2.2},{"s":"N","t":1109.86,"v":-0.2},{"s":"N","t":1110.87,"v":-1.2},{"s":"N","t":1111.88,"v":-2.2},{"s":"N","t":1112.9,"v":-0.2},{"s":"N","t":1113.91,"v":0.8},{"s":"N","t":1114.93,"v":-1.2},{"s":"N","t":1115.94,"v":-0.2},{"s":"N","t":1116.96,"v":-1.2},{"s":"N","t":1117.97,"v":0.8},{"s":"N","t":1118.99,"v":-1.2},{"s":"N","t":1120,"v":-0.2}
],
"blue": [
{"t":1050,"v":1},{"t":1051.01,"v":2},{"t":1052.03,"v":0},{"t":1053.04,"v":0},{"t":1054.06,"v":2},{"t":1055.07,"v":-1},{"t":1056.09,"v":-3},{"t":1057.1,"v":-3},{"t":1058.12,"v":2},{"t":1059.13,"v":-1},{"t":1060.14,"v":3},{"t":1061.16,"v":-7},{"t":1062.17,"v":1},{"t":1063.19,"v":-3},{"t":1064.2,"v":1},{"t":1065.22,"v":-1},{"t":1066.23,"v":-1},{"t":1067.25,"v":2},{"t":1068.26,"v":-2},{"t":1069.28,"v":4},{"t":1070.29,"v":-2},{"t":1071.3,"v":1},{"t":1072.32,"v":-2},{"t":1073.33,"v":2},{"t":1074.35,"v":-2},{"t":1075.36,"v":-3},{"t":1076.38,"v":1},{"t":1077.39,"v":0},{"t":1078.41,"v":3},{"t":1079.42,"v":-1},{"t":1080.43,"v":-1},{"t":1081.45,"v":-1},{"t":1082.46,"v":-2},{"t":1083.48,"v":0},{"t":1084.49,"v":1},{"t":1085.51,"v":0},{"t":1086.52,"v":-1},{"t":1087.54,"v":0},{"t":1088.55,"v":0},{"t":1089.57,"v":0},{"t":1090.58,"v":0},{"t":1091.59,"v":-2},{"t":1092.61,"v":-1},{"t":1093.62,"v":3},{"t":1094.64,"v":2},{"t":1095.65,"v":-1},{"t":1096.67,"v":0},{"t":1097.68,"v":-2},{"t":1098.7,"v":-1},{"t":1099.71,"v":1},{"t":1100.72,"v":1},{"t":1101.74,"v":1},{"t":1102.75,"v":-2},{"t":1103.77,"v":-3},{"t":1104.78,"v":-1},{"t":1105.8,"v":0},{"t":1106.81,"v":0},{"t":1107.83,"v":0},{"t":1108.84,"v":1},{"t":1109.86,"v":-3},{"t":1110.87,"v":0},{"t":1111.88,"v":1},{"t":1112.9,"v":1},{"t":1113.91,"v":-2},{"t":1114.93,"v":-1},{"t":1115.94,"v":-2},{"t":1116.96,"v":1},{"t":1117.97,"v":1},{"t":1118.99,"v":-1},{"t":1120,"v":-1}
]
},
"layer": [
  {
    "data": {"name": "red"},
    "mark": {"type": "line", "color": "#ff0000", "strokeWidth": 1.2, "strokeJoin": "round", "clip": true},
    "encoding": {
      "x": {"field": "t", "type": "quantitative", "scale": {"domain": [1050, 1120], "nice": false, "zero": false},
            "axis": {"orient": "bottom", "values": [1050, 1060, 1070, 1080, 1090, 1100, 1110, 1120], "format": "d", "title": "Time-Tick", "titleX": 575, "titleY": 54, "titleAlign": "center", "titleBaseline": "alphabetic", "labelPadding": 11, "tickSize": -5}},
      "y": {"field": "v", "type": "quantitative", "scale": {"domain": [-8, 6], "nice": false, "zero": false},
            "axis": {"orient": "left", "values": [-8, -6, -4, -2, 0, 2, 4, 6], "format": "d", "title": "ADC Counts", "titleX": -46, "titleY": 208, "titleAngle": -90, "titleAlign": "center", "titleBaseline": "alphabetic", "labelPadding": 9, "tickSize": -5}},
      "detail": {"field": "s", "type": "nominal"}
    }
  },
  {
    "data": {"name": "blue"},
    "mark": {"type": "line", "strokeWidth": 5.5, "strokeJoin": "round", "clip": true},
    "encoding": {
      "x": {"field": "t", "type": "quantitative", "scale": {"domain": [1050, 1120], "nice": false, "zero": false},
            "axis": {"orient": "top", "values": [1050, 1060, 1070, 1080, 1090, 1100, 1110, 1120], "labels": false, "title": null, "tickSize": -5}},
      "y": {"field": "v", "type": "quantitative", "scale": {"domain": [-8, 6], "nice": false, "zero": false},
            "axis": {"orient": "right", "values": [-8, -6, -4, -2, 0, 2, 4, 6], "labels": false, "title": null, "tickSize": -5}},
      "color": {"datum": "Chan [5,15,15]", "type": "nominal",
                "scale": {"domain": ["Chan [5,15,15]"], "range": ["#0000ff"]},
                "legend": {"orient": "none", "legendX": 846, "legendY": 16, "title": null, "symbolType": "stroke", "symbolStrokeWidth": 5.5, "symbolSize": 1764, "symbolStrokeColor": "#0000ff", "labelFont": "DejaVu Sans", "labelFontSize": 25, "labelColor": "#000000", "labelLimit": 500, "strokeColor": "#000000", "fillColor": "#ffffff", "padding": 7, "symbolOffset": 9, "labelOffset": 29, "cornerRadius": 0}}
    }
  }
],
"resolve": {"axis": {"x": "independent", "y": "independent"}}
}
